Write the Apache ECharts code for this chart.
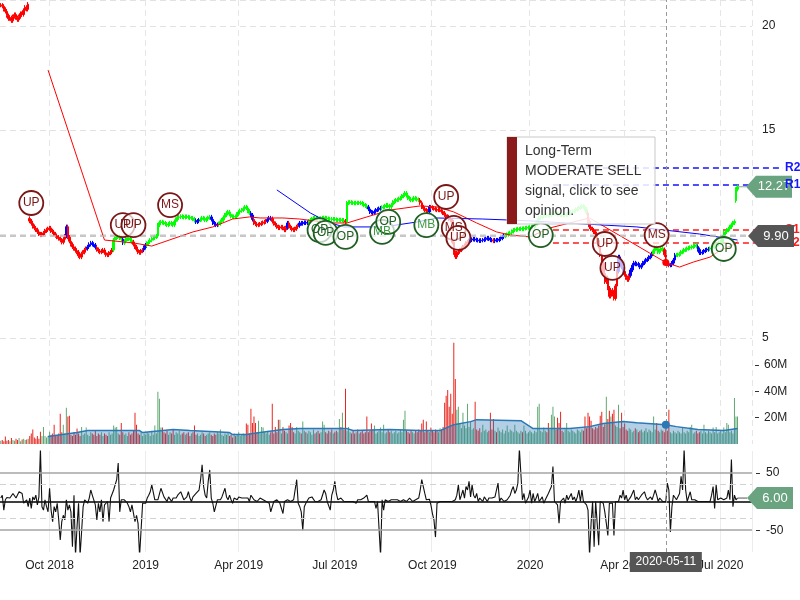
<!DOCTYPE html>
<html><head><meta charset="utf-8">
<script src="https://cdn.jsdelivr.net/npm/echarts@6/dist/echarts.min.js"></script>
<style>html,body{margin:0;padding:0;background:#fff}#c{width:800px;height:600px}</style>
</head><body><div id="c"></div>
<script>
// ---------------- DATA ----------------
const FIRST_DAY = '2018-08-15';
const LAST_AXIS_DAY = '2020-07-30';
const holidays = ['2018-09-03','2018-11-22','2018-12-05','2018-12-25','2019-01-01','2019-01-21','2019-02-18','2019-04-19','2019-05-27','2019-07-04','2019-09-02','2019-11-28','2019-12-25','2020-01-01','2020-01-20','2020-02-17','2020-04-10','2020-05-25','2020-07-03'];

// daily closes (one per trading day)
const closes = [
21.0,20.95,20.8,20.7,20.5,20.35,20.4,20.25,20.45,20.55,
20.4,20.3,20.45,20.6,20.55,20.75,20.9,20.8,21.05,
10.62,10.5,10.36,10.28,10.2,10.1,10.0,9.95,10.0,10.05,10.15,
10.2,10.25,10.29,10.15,10.1,10.0,9.92,9.85,9.78,9.7,
9.6,9.75,9.9,10.35,9.85,9.65,9.5,9.38,9.3,9.2,
9.13,8.95,8.89,9.05,9.12,9.23,9.3,9.38,9.5,9.57,
9.5,9.47,9.35,9.25,9.18,9.13,9.18,9.23,9.1,9.0,
8.99,9.08,9.13,9.23,9.71,9.8,9.86,9.88,9.81,9.75,
9.57,9.65,9.76,9.81,9.76,9.71,9.62,9.5,9.38,9.25,
9.13,9.1,9.18,9.23,9.35,9.47,9.55,9.62,9.7,9.78,
9.81,9.86,9.9,10.43,10.55,10.58,10.55,10.53,10.48,10.43,
10.48,10.53,10.48,10.43,10.6,10.7,10.8,10.82,10.85,10.82,
10.8,10.84,10.82,10.8,10.77,10.77,10.72,10.65,10.58,10.62,
10.67,10.7,10.77,10.74,10.67,10.72,10.78,10.82,10.7,10.53,
10.48,10.43,10.45,10.5,10.6,10.67,10.8,10.91,11.0,11.06,
10.95,10.85,10.82,10.84,10.82,10.95,11.06,11.12,11.15,11.22,
11.3,11.25,11.1,11.0,10.91,10.7,10.53,10.48,10.43,10.45,
10.48,10.52,10.55,10.58,10.62,10.7,10.77,10.74,10.6,10.5,
10.43,10.35,10.29,10.32,10.34,10.28,10.19,10.3,10.53,10.35,
10.29,10.22,10.19,10.25,10.34,10.4,10.53,10.5,10.53,10.55,
10.53,10.55,10.62,10.67,10.72,10.77,10.75,10.77,10.74,10.72,
10.75,10.77,10.78,10.77,10.74,10.72,10.72,10.7,10.72,10.7,
10.67,10.67,10.68,10.66,10.67,10.62,10.58,11.49,11.52,11.53,
11.5,11.49,11.48,11.5,11.49,11.5,11.49,11.44,11.39,11.35,
11.3,11.2,11.06,11.04,11.01,11.08,11.15,11.18,11.22,11.25,
11.28,11.3,11.35,11.39,11.35,11.3,11.4,11.53,11.58,11.63,
11.65,11.7,11.73,11.82,11.88,11.97,11.85,11.73,11.68,11.63,
11.66,11.73,11.7,11.66,11.63,11.5,11.3,11.22,11.15,11.1,
11.06,11.3,11.28,11.25,11.22,11.18,11.15,11.15,11.15,11.08,
11.01,10.92,10.85,10.82,10.72,10.67,9.6,9.1,8.9,9.09,
9.15,9.23,9.3,9.38,9.45,9.55,9.62,9.68,9.71,9.74,
9.76,9.73,9.71,9.69,9.67,9.7,9.71,9.74,9.78,9.81,
9.76,9.71,9.7,9.66,9.71,9.7,9.71,9.76,9.8,9.86,
9.9,9.95,9.97,10.02,10.05,10.12,10.19,10.2,10.22,10.24,
10.24,10.26,10.24,10.27,10.29,10.3,10.31,10.32,10.34,10.36,
10.4,10.5,10.65,10.78,10.82,10.85,10.88,10.91,10.9,10.88,
10.91,10.95,11.0,11.02,10.98,10.95,10.92,10.91,10.9,10.91,
10.91,10.93,10.95,11.0,11.05,11.08,11.12,11.18,11.22,11.25,
11.3,11.34,11.3,11.2,11.0,10.6,10.34,10.25,10.19,10.1,
10.0,9.7,9.4,9.0,8.6,8.1,7.7,7.9,7.4,7.0,
7.3,7.1,6.9,7.5,8.2,8.9,8.7,8.4,8.2,8.05,
7.9,7.8,8.0,8.27,8.5,8.61,8.55,8.56,8.5,8.41,
8.5,8.61,8.68,8.75,8.8,8.88,8.94,9.05,9.2,9.38,
9.3,9.13,9.2,9.33,9.25,9.0,8.61,8.55,8.5,8.51,
8.6,8.75,8.99,8.99,9.0,9.05,9.13,9.16,9.23,9.25,
9.3,9.33,9.35,9.38,9.42,9.47,9.4,9.25,9.09,9.1,
9.13,9.18,9.23,9.25,9.28,9.3,9.33,9.38,9.42,9.47,
9.52,9.58,9.62,9.85,10.05,10.1,10.19,10.25,10.34,10.45,
10.53,10.6,12.15,12.27
];
// opens that gapped away from the previous close: [day index, open]
const gapOpens = [[19,10.75],[482,11.6]];

// trend signal state per segment: [first day index, state]
const trendState = [[0,'r'],[43,'b'],[44,'r'],[57,'b'],[63,'r'],[74,'g'],[80,'b'],[81,'g'],[87,'r'],[94,'b'],[96,'g'],[128,'b'],[131,'g'],[138,'b'],[143,'g'],[164,'b'],[166,'r'],[175,'b'],[178,'r'],[188,'b'],[189,'r'],[196,'b'],[202,'g'],[226,'r'],[227,'g'],[241,'b'],[250,'g'],[275,'r'],[281,'b'],[282,'r'],[307,'b'],[323,'r'],[324,'b'],[331,'g'],[385,'r'],[405,'b'],[409,'r'],[413,'b'],[428,'g'],[435,'r'],[439,'b'],[443,'g'],[457,'b'],[465,'g']];

// daily volume, millions
const volumes = [
2.5,3,2,5.7,2.5,3,2,4.5,3,2.5,
4,3,4.5,2,3.5,4,3,3.5,4,6,
8,11,5,4,6,4,9.4,6,13,6,5,
6,9.4,7,8,14.7,7,6,8,23,9,
14.7,8,27.5,20.8,21.5,7,6,9,7,11.7,
8,6,13,7,8,12.5,7,6,9,8,
7,10,6,8,7,9,6,8,7,6,
9,7,8,14,12.5,13,8,7,16,9,
7,8,6,9,7,8,10,23.8,14.7,8,
7,9,6,8,7,9,8,6,10,7,
14,8,39.6,34.3,12.5,12.5,9,8,10,7,
9,8,11,7,9,8,10,7,8,9,
7,8,9,6,8,9,14,7,8,6,
7,9,8,6,7,8,9,7,6,8,
7,9,8,11,7,6,8,7,9,6,
7,5,8,6,7,9,6,7,8,7,
15.5,14.7,8,26.8,16,20.8,16,9,17.7,8,
13,12.5,9,8,10,7,9,30.6,8,13,
9,18.5,18.5,8,13,10,9,8,14,16,
13,9,8,13,10,9,8,17,10,9,
8,10,9,7,11,8,9,10,8,9,
17,14.7,9,8,10,9,11,8,9,10,
9,19,13,23.8,11,41.9,10,13,9,8,
10,8,9,11,8,9,10,8,9,20.8,
9,10,15.5,11,14,8,9,10,12.5,9,
14.7,8,9,11,9,10,8,9,10,8,
9,11,9,18.5,25.3,10,9,8,10,9,
8,10,9,11,10,15.5,18.5,9,17,10,
9,12.5,10,9,11,10,9,12,11,13,
31.3,36.6,41.1,28.3,38.2,23,77,49.4,26,28.3,
16,12,23.8,14,12,30.6,13,17,11,12,
32,11,10,12,9,14.7,10,11,9,10,
23.8,11,19,10,9,12.5,10,9,11,8,
10,14,9,11,10,9,14.7,10,9,8,
10,9,14,10,8,9,10,9,8,10,
9,28.3,30.6,10,9,12.5,10,9,16,11,
22.3,28.3,20.8,11,20,16,24.5,10,9,11,
16,10,9,11,10,9,8,11,10,9,
11,10,20.8,12,23.8,20.8,17.7,12,11,13,
12,14,21.5,24.5,13,15,35.8,19,25.3,20.8,
23,26,14,13,29.8,12,23.8,13,15.5,11,
10,12,11,9,10,12,11,9,10,11,
9,10,12,9,11,10,9,20.8,11,16,
10,9,11,10,9,12,10,26,9,8,
10,9,8,10,9,8,12.5,9,8,10,
9,13,14.7,8,9,10,8,9,10,8,
14.7,9,8,10,9,8,12.5,9,13,8,
9,10,8,12.5,9,16,14.7,9,10,8,35,20.8,20.8
];

// oscillator, one per trading day
const oscillator = [
6,11,-15,3,7,7,6,10,14,17,
6,3,17,20,14,-3,0,3,-9,6,
-12,8,3,11,-6,8,92,-9,-15,3,
-9,-18,23,-15,-35,-9,-18,-3,-32,-67,
-35,-24,-32,3,-15,-6,-18,-79,11,-95,
-44,-3,-95,-95,-9,3,0,-3,6,20,
11,8,-6,-32,-3,-18,3,-35,-6,-3,
0,-35,6,3,20,20,38,67,-18,3,
6,3,0,-3,-9,-18,-6,-6,-35,-24,
-38,-95,-95,-3,0,-3,6,11,17,29,
32,3,6,3,0,23,20,8,11,0,
8,6,0,6,3,6,11,14,17,14,
3,3,8,17,6,0,8,6,14,17,
20,38,64,26,11,6,35,55,6,-3,
-18,-15,3,6,3,8,6,23,8,3,
11,3,-3,6,8,3,8,11,6,3,
6,3,6,0,11,14,3,6,0,3,
6,3,3,0,0,3,-3,-18,-9,0,
0,3,3,-3,0,-21,0,3,3,0,
0,3,3,0,38,-3,-9,-18,-50,-9,
-3,0,6,3,8,8,0,3,0,0,
3,6,20,14,0,-3,-15,11,20,35,
14,3,0,6,3,0,3,0,0,0,
3,0,0,-3,3,0,3,3,6,8,
11,0,3,0,-3,0,-12,0,-3,-95,
3,-15,3,0,0,3,3,0,3,0,
3,0,0,1,3,1,0,1,6,3,
0,0,3,3,6,20,38,26,14,3,
0,4,-6,-21,-32,-62,-3,0,0,0,
0,0,0,0,0,0,0,0,3,11,
29,3,11,20,6,26,20,35,8,29,
11,6,14,0,6,8,0,8,6,0,
6,3,6,3,8,11,32,0,6,3,
0,1,3,0,11,20,26,14,20,32,
92,92,3,14,-3,0,8,20,-3,14,
0,6,14,0,3,8,-3,3,3,14,
20,26,61,0,3,-6,-38,0,3,6,
-3,11,3,6,14,3,8,0,8,20,
0,20,0,-3,-6,-15,-95,-38,0,-79,
0,0,-76,0,-3,-3,-18,-38,-59,-3,
0,-3,-59,0,3,0,11,6,20,3,
11,0,3,8,14,20,3,8,3,6,
11,11,17,8,3,0,8,3,11,20,
11,0,6,3,0,-3,0,32,20,-53,
-9,11,14,3,6,14,44,20,92,20,
0,3,17,3,0,3,3,0,0,0,
0,0,0,0,0,0,11,26,-12,29,
3,0,6,3,3,6,6,20,3,73,
-9,11,3,6
];

// moving averages: [day index, value]
const maRed = [[31,17.88],[68,9.71],[87,9.57],[99,9.42],[126,10.10],[139,10.34],[152,10.72],[163,10.82],[170,10.77],[185,10.77],[196,10.72],[216,10.53],[227,10.53],[240,10.82],[255,11.15],[275,11.35],[286,11.30],[297,11.06],[312,10.53],[325,10.10],[334,9.95],[347,9.86],[360,10.29],[386,10.77],[436,8.63],[445,8.41],[454,8.65],[465,8.89],[472,9.23],[480,9.47],[483,9.62]];
const maBlue = [[181,12.12],[203,11.01],[214,10.58],[225,10.34],[251,10.34],[273,10.58],[286,10.77],[316,10.72],[334,10.67],[347,10.63],[417,10.34],[458,10.0],[483,9.71]];
const volMA = [[31,5.7],[50,8.7],[57,10.2],[91,10.2],[93,8.7],[113,11.0],[124,10.2],[150,8.7],[152,7.2],[161,7.2],[170,8.7],[185,11.0],[196,11.7],[227,11.7],[231,10.2],[255,11.0],[275,10.2],[288,10.2],[297,14.7],[308,17.0],[312,18.5],[341,17.7],[349,11.7],[373,11.7],[386,13.2],[395,15.5],[408,17.0],[417,16.2],[436,14.7],[443,13.2],[457,11.0],[474,10.2],[483,11.7]];

// signal markers: [day index, price, label, side]
const signals = [[20,11.49,'UP','s'],[80,10.43,'UP','s'],[87,10.43,'UP','s'],[111,11.39,'MS','s'],[209,10.19,'OP','b'],[213,10.05,'OP','b'],[226,9.86,'OP','b'],[250,10.10,'MB','b'],[254,10.58,'OP','b'],[279,10.43,'MB','b'],[292,11.78,'UP','s'],[297,10.29,'MS','s'],[300,9.81,'UP','s'],[354,9.95,'OP','b'],[396,9.52,'UP','s'],[401,8.37,'UP','s'],[430,9.95,'MS','s'],[474,9.28,'OP','b']];

// support / resistance levels
const levels = [['R2',13.17],['R1',12.36],['S1',10.19],['S2',9.57]];
const levelStartIndex = 362;

const cursorDay = '2020-05-11';
const cursorPrice = 9.90;
const cursorVolMA = 14.7;
const cursorRedMA = 8.63;

const priceTicks = [5,10,15,20];
const volumeTicks = [20,40,60];
const oscTicks = [-50,50];
const oscBands = [50,-50];
const oscInner = [30,-30];
const tooltipLines = ['Long-Term','MODERATE SELL','signal, click to see','opinion.'];

// ---------------- BUILD ----------------
const days = (() => {
  const out = [], hol = new Set(holidays);
  let t = Date.parse(FIRST_DAY + 'T00:00:00Z');
  const end = Date.parse(LAST_AXIS_DAY + 'T00:00:00Z');
  while (t <= end) {
    const d = new Date(t), wd = d.getUTCDay(), s = d.toISOString().slice(0,10);
    if (wd !== 0 && wd !== 6 && !hol.has(s)) out.push(s);
    t += 86400000;
  }
  return out;
})();
const MONTHS = ['Jan','Feb','Mar','Apr','May','Jun','Jul','Aug','Sep','Oct','Nov','Dec'];
const qStart = new Set();
days.forEach((d, i) => {
  const m = +d.slice(5,7);
  if ((m === 1 || m === 4 || m === 7 || m === 10) && i > 0 && days[i-1].slice(5,7) !== d.slice(5,7)) qStart.add(i);
});
const qInterval = (i) => qStart.has(i);
const qLabel = (v, i) => {
  if (!qStart.has(days.indexOf(v))) return '';
  const m = +v.slice(5,7); return m === 1 ? v.slice(0,4) : MONTHS[m-1] + ' ' + v.slice(0,4);
};

const COL = {r:'#ff0000', b:'#0000ff', g:'#00ff00'};
function stateAt(i){ let s = 'r'; for (const [st, c] of trendState) if (i >= st) s = c; return s; }
const gapMap = new Map(gapOpens);
const WICK = 0.1;
const opens = closes.map((c, i) => gapMap.has(i) ? gapMap.get(i) : (i ? closes[i-1] : c));
const candleData = closes.map((c, i) => {
  const o = opens[i], col = COL[stateAt(i)];
  return {value:[o, c, Math.min(o,c) - WICK, Math.max(o,c) + WICK],
          itemStyle:{color:col, color0:col, borderColor:col, borderColor0:col}};
});
const volData = volumes.map((v, i) => ({value:v, itemStyle:{color: closes[i] >= opens[i] ? '#5fa872' : '#e8271f'}}));

const markerData = signals.map(([i, p, t, side]) => {
  const buy = side === 'b';
  const edge = buy ? '#1f5f22' : '#7a1616';
  const txt = buy ? (t === 'MB' ? '#3d9b40' : '#1f5f22') : '#7a1616';
  return {coord:[i, p], value:t,
    itemStyle:{color:'rgba(255,255,255,0.72)', borderColor:edge, borderWidth:1.8},
    label:{show:true, formatter:t, color:txt, fontSize:12}};
});

const FONT = 'Liberation Sans, Arial, Helvetica, sans-serif';
const GL = 0, GW = 752;
const vDash = {show:true, interval:qInterval, lineStyle:{color:'#e6e6e6', type:[6,4], width:1}};
const xBase = (gi) => ({type:'category', gridIndex:gi, data:days, boundaryGap:true,
  axisLine:{show:false}, axisTick:{show:false}, axisLabel:{show:false}, splitLine:vDash});

const crossV = {silent:true, symbol:['none','none'], label:{show:false},
  lineStyle:{color:'#999', type:[4,3], width:1}, data:[{xAxis:cursorDay}]};

const option = {
  animation:false,
  textStyle:{fontFamily:FONT},
  grid:[
    {left:GL, top:0, width:GW, height:338},
    {left:GL, top:340, width:GW, height:104},
    {left:GL, top:451, width:GW, height:101}
  ],
  xAxis:[
    xBase(0), xBase(1),
    Object.assign(xBase(2), {
      axisLine:{show:true, lineStyle:{color:'#000', width:1.5}},
      axisLabel:{show:true, interval:qInterval, formatter:qLabel, color:'#222', fontSize:12, margin:8},
      splitLine:{show:true, interval:qInterval, lineStyle:{color:'#ececec', width:1}}
    })
  ],
  yAxis:[
    {type:'value', gridIndex:0, position:'right', min:5, max:21.25, interval:5,
     axisLine:{show:false}, axisTick:{show:false},
     axisLabel:{color:'#222', fontSize:12, margin:10,
       customValues:priceTicks, formatter:(v)=> priceTicks.includes(v) ? String(v) : ''},
     splitLine:{show:true, lineStyle:{color:'#e2e2e2', type:[6,4]}}},
    {type:'value', gridIndex:1, position:'right', min:0, max:79, interval:20, offset:3,
     axisLine:{show:false},
     axisTick:{show:true, length:4, customValues:volumeTicks, lineStyle:{color:'#333'}},
     axisLabel:{color:'#222', fontSize:12, margin:9, customValues:volumeTicks,
       formatter:(v)=> volumeTicks.includes(v) ? v + 'M' : ''},
     splitLine:{show:false}},
    {type:'value', gridIndex:2, position:'right', min:-88, max:88, offset:4,
     axisLine:{show:false},
     axisTick:{show:true, length:4, customValues:oscTicks, lineStyle:{color:'#333'}},
     axisLabel:{color:'#222', fontSize:12, margin:10, customValues:oscTicks,
       formatter:(v)=> oscTicks.includes(v) ? String(v) : ''},
     splitLine:{show:false}}
  ],
  series:[
    {type:'candlestick', xAxisIndex:0, yAxisIndex:0, data:candleData, barWidth:2,
     itemStyle:{borderWidth:1},
     markLine:{silent:true, symbol:['none','none'], label:{show:false},
       data:[{xAxis:cursorDay, lineStyle:{color:'#999', type:[4,3], width:1}},
             {yAxis:cursorPrice, lineStyle:{color:'#b5b5b5', type:[6,4], width:1.6}}]},
     markPoint:{symbol:'circle', symbolSize:24, silent:true, data:markerData}},
    {type:'line', xAxisIndex:0, yAxisIndex:0, data:maRed, showSymbol:false,
     lineStyle:{color:'#ff0000', width:1}, itemStyle:{color:'#ff0000'},
     markPoint:{symbol:'circle', symbolSize:7, silent:true, label:{show:false},
       itemStyle:{color:'#ff0000'}, data:[{coord:[cursorDay, cursorRedMA]}]}},
    {type:'line', xAxisIndex:0, yAxisIndex:0, data:maBlue, showSymbol:false,
     lineStyle:{color:'#0000ff', width:1}, itemStyle:{color:'#0000ff'}},
    {type:'bar', xAxisIndex:1, yAxisIndex:1, data:volData, barWidth:1, markLine:crossV},
    {type:'line', xAxisIndex:1, yAxisIndex:1, data:volMA, showSymbol:false,
     lineStyle:{color:'#2a78b5', width:1.5}, itemStyle:{color:'#2a78b5'},
     areaStyle:{color:'rgba(40,118,180,0.5)'},
     markPoint:{symbol:'circle', symbolSize:8, silent:true, label:{show:false},
       itemStyle:{color:'#2a78b5'}, data:[{coord:[cursorDay, cursorVolMA]}]}},
    {type:'line', xAxisIndex:2, yAxisIndex:2, data:oscillator, showSymbol:false,
     lineStyle:{color:'#111', width:1.1}, itemStyle:{color:'#111'},
     markLine:{silent:true, symbol:['none','none'], label:{show:false},
       data:[
         ...oscBands.map(v => ({yAxis:v, lineStyle:{color:'#a5a5a5', type:'solid', width:1.6}})),
         ...oscInner.map(v => ({yAxis:v, lineStyle:{color:'#d2d2d2', type:[6,4], width:1.2}})),
         {xAxis:cursorDay, lineStyle:{color:'#999', type:[4,3], width:1}}
       ]}}
  ]
};

const chart = echarts.init(document.getElementById('c'));
chart.setOption(option);

// ---------------- overlays placed through the chart's own scales ----------------
const P = (gi, x, y) => chart.convertToPixel({gridIndex:gi}, [x, y]);
const RIGHT = GL + GW;
const last = closes.length - 1;
const g = [];

function tag(tipX, y, text, fill, z) {
  const h = 11;
  g.push({type:'polygon', z, shape:{points:[[tipX,y],[tipX+10,y-h],[tipX+46,y-h],[tipX+46,y+h],[tipX+10,y+h]]}, style:{fill}});
  g.push({type:'text', z:z+1, x:tipX+28, y, style:{text, fill:'#fff', font:'13px ' + FONT, align:'center', verticalAlign:'middle'}});
}

// support / resistance
levels.forEach(([name, v]) => {
  const [x1, y] = P(0, levelStartIndex, v);
  const col = name[0] === 'R' ? '#1515ff' : '#ff1a1a';
  g.push({type:'line', z:1, shape:{x1, y1:y, x2:RIGHT + 31, y2:y}, style:{stroke:col, lineWidth:1.5, lineDash:[6,4]}});
  g.push({type:'text', z: name[0] === 'R' ? 120 : 90, x:RIGHT + 33, y, style:{text:name, fill:col, font:'bold 12px ' + FONT, verticalAlign:'middle'}});
});

// last price tag
const [lx, ly] = P(0, last, closes[last]);
g.push({type:'line', z:95, shape:{x1:lx+1, y1:ly, x2:RIGHT-6, y2:ly}, style:{stroke:'#999', lineWidth:1}});
tag(RIGHT - 6, ly, closes[last].toFixed(2), '#69a37f', 100);
// crosshair price tag
const [, cy] = P(0, 0, cursorPrice);
tag(RIGHT - 4, cy, cursorPrice.toFixed(2), '#555555', 100);
// oscillator last value tag
const [ox, oy] = P(2, last, oscillator[last]);
g.push({type:'line', z:95, shape:{x1:ox, y1:oy, x2:RIGHT-5, y2:oy}, style:{stroke:'#555', lineWidth:1}});
tag(RIGHT - 5, oy, oscillator[last].toFixed(2), '#69a37f', 100);
// crosshair date label
const [dx] = P(2, days.indexOf(cursorDay), 0);
const [, axisY] = P(2, 0, -88);
g.push({type:'rect', z:110, shape:{x:dx-36, y:axisY, width:72, height:20}, style:{fill:'#555'}});
g.push({type:'text', z:111, x:dx, y:axisY+10, style:{text:cursorDay, fill:'#fff', font:'12px ' + FONT, align:'center', verticalAlign:'middle'}});

// opinion box
const BX = 507, BY = 137, BW = 148, BH = 87;
g.push({type:'rect', z:130, shape:{x:BX, y:BY, width:BW, height:BH}, style:{fill:'rgba(255,255,255,0.86)', stroke:'#c8c8c8', lineWidth:1}});
g.push({type:'rect', z:131, shape:{x:BX, y:BY, width:10, height:BH}, style:{fill:'#8b1a1a'}});
g.push({type:'text', z:132, x:BX+18, y:BY+4, style:{text:tooltipLines.join('\n'), fill:'#333', font:'14px ' + FONT, lineHeight:20}});

chart.setOption({graphic:g});
</script>
</body></html>
